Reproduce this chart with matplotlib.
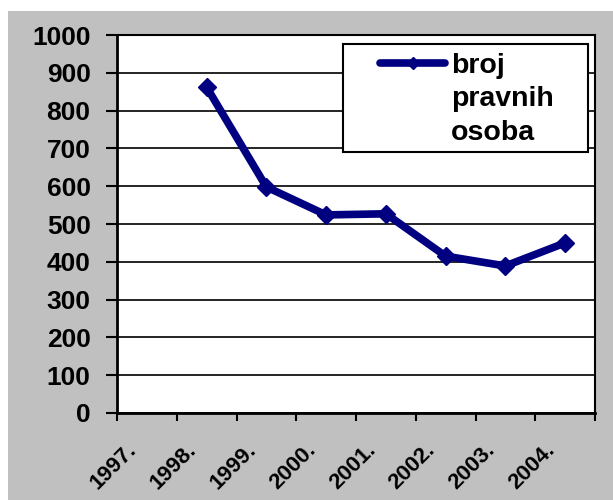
import numpy as np
import matplotlib.pyplot as plt
from matplotlib.lines import Line2D
from matplotlib.patches import Rectangle
from matplotlib.transforms import ScaledTranslation

# broj pravnih osoba po godinama (1997. nema podatka)
years = ['1997.', '1998.', '1999.', '2000.', '2001.', '2002.', '2003.', '2004.']
broj = [np.nan, 862, 598, 524, 527, 415, 389, 450]
legend_rows = ['broj', 'pravnih', 'osoba']
yticks = list(range(0, 1001, 100))

navy = '#000080'
gray = '#c0c0c0'

plt.rcParams['font.family'] = ['Liberation Sans', 'DejaVu Sans']
plt.rcParams['font.weight'] = 'bold'

fig = plt.figure(figsize=(6.13, 5.0), dpi=100)
fig.patch.set_facecolor('white')
# gray chart area, thin white strip on top and left
fig.patches.append(Rectangle((8 / 613, 0), 1, 489 / 500, transform=fig.transFigure,
                             facecolor=gray, edgecolor='none', zorder=-1))

ax = fig.add_axes([117 / 613, 87 / 500, 478 / 613, 378 / 500])
ax.set_facecolor('white')

x = np.arange(len(years)) + 0.5
line, = ax.plot(x, broj, color=navy, lw=5.5, marker='D', ms=9.5,
                solid_joinstyle='miter', solid_capstyle='round', zorder=4)

ax.set_xlim(0, len(years))
ax.set_ylim(0, 1000)
ax.set_yticks(yticks)
ax.set_yticklabels([str(v) for v in yticks], fontsize=19)
ax.grid(axis='y', color='black', lw=1.2, zorder=1)
ax.set_axisbelow(True)

# ticks between categories, labels in the middle
ax.set_xticks(np.arange(len(years) + 1))
ax.set_xticklabels([])
ax.set_xticks(x, minor=True)
ax.set_xticklabels(years, minor=True, rotation=45, ha='right', va='top', fontsize=16)
ax.tick_params(axis='x', which='major', direction='out', length=5.8, width=1.5, color='black')
ax.tick_params(axis='x', which='minor', length=0, pad=19)
ax.tick_params(axis='y', direction='out', length=8, width=1.5, pad=11)
for lbl in ax.get_xticklabels(minor=True):
    lbl.set_transform(lbl.get_transform() + ScaledTranslation(-0.06, 0, fig.dpi_scale_trans))

for side in ['left', 'bottom']:
    ax.spines[side].set_linewidth(2)
for side in ['top', 'right']:
    ax.spines[side].set_linewidth(1.5)

# legend box
ax.add_patch(Rectangle((0.4728, 0.6905), 0.5126, 0.2857, transform=ax.transAxes,
                       facecolor='white', edgecolor='black', lw=1.5, zorder=3))
blank = [Line2D([], [], color='none') for _ in legend_rows[1:]]
ax.legend([line] + blank, legend_rows, loc='upper left', bbox_to_anchor=(0.550, 0.953),
          frameon=False, borderpad=0, borderaxespad=0, fontsize=20.5,
          handlelength=2.3, handletextpad=0.2, labelspacing=0.26, markerscale=0.65)

fig.savefig('out.png', dpi=100)
